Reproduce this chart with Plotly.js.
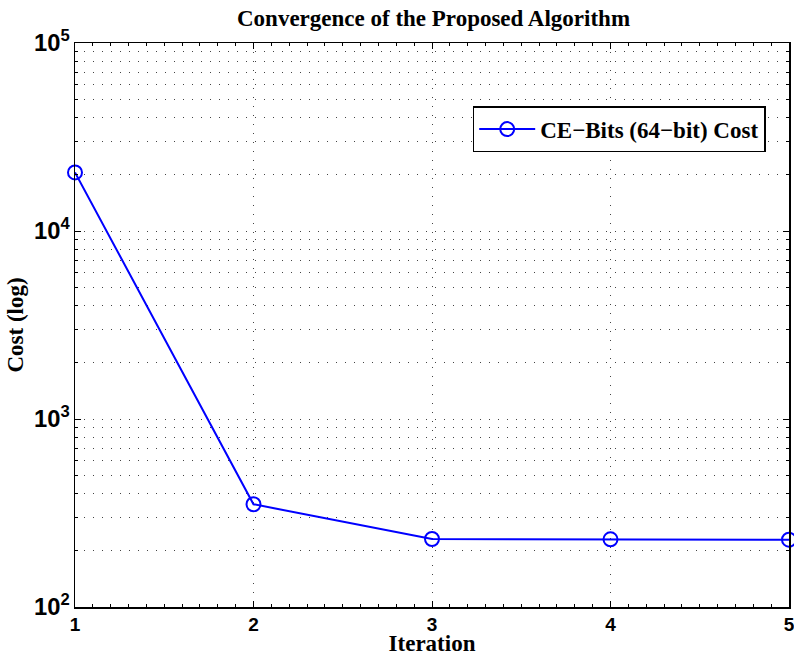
<!DOCTYPE html>
<html>
<head>
<meta charset="utf-8">
<script src="https://cdn.plot.ly/plotly-3.0.1.min.js"></script>
<style>html,body{margin:0;padding:0;background:#fff;}#chart{width:794px;height:656px;}</style>
</head>
<body>
<div id="chart"></div>
<script>
const iterations = [1, 2, 3, 4, 5];
const costValues = [20500, 352, 230, 229, 228];
const seriesName = "CE\u2212Bits (64\u2212bit) Cost";
const xTickValues = [1, 2, 3, 4, 5];

const gridDash = "1px,8px";
const gridColor = "#444";

const trace = {
  x: iterations,
  y: costValues,
  type: "scatter",
  mode: "lines+markers",
  name: seriesName,
  line: {color: "#0000ff", width: 2},
  marker: {symbol: "circle-open", size: 14, color: "#0000ff", line: {width: 2, color: "#0000ff"}},
  cliponaxis: false,
  showlegend: true
};

const serif = "Liberation Serif, Times New Roman, serif";
const sans = "Liberation Sans, Arial, sans-serif";

const layout = {
  width: 794, height: 656,
  margin: {l: 75, r: 5, t: 43, b: 49},
  paper_bgcolor: "#fff",
  plot_bgcolor: "#fff",
  showlegend: true,
  title: {
    text: "Convergence of the Proposed Algorithm",
    font: {family: serif, size: 23, color: "#000", weight: "bold"},
    x: 0.546, xanchor: "center", y: 0.973, yanchor: "middle"
  },
  xaxis: {
    range: [1, 5],
    tickvals: xTickValues,
    ticktext: xTickValues.map(String),
    ticks: "inside", ticklen: 6, tickcolor: "#000",
    ticklabeloverflow: "allow",
    mirror: "ticks", showline: true, linecolor: "#000", linewidth: 1.5,
    showgrid: true, gridcolor: gridColor, griddash: gridDash, gridwidth: 1,
    zeroline: false,
    tickfont: {family: sans, size: 19, color: "#000", weight: "bold"},
    minor: {dtick: 0.1, ticks: "inside", ticklen: 3, tickcolor: "#000", showgrid: false},
    title: {text: "Iteration", font: {family: serif, size: 23, color: "#000", weight: "bold"}, standoff: 2}
  },
  yaxis: {
    type: "log",
    range: [2, 5],
    dtick: 1,
    exponentformat: "power",
    showexponent: "all",
    ticks: "inside", ticklen: 6, tickcolor: "#000",
    ticklabeloverflow: "allow",
    mirror: "ticks", showline: true, linecolor: "#000", linewidth: 1.5,
    showgrid: true, gridcolor: gridColor, griddash: gridDash, gridwidth: 1,
    zeroline: false,
    tickfont: {family: sans, size: 19, color: "#000", weight: "bold"},
    minor: {dtick: "D1", ticks: "inside", ticklen: 3, tickcolor: "#000", showgrid: true, gridcolor: gridColor, griddash: gridDash, gridwidth: 1},
    title: {text: "Cost (log)", font: {family: serif, size: 23, color: "#000", weight: "bold"}, standoff: 4}
  },
  legend: {
    x: 0.557, xanchor: "left", y: 0.888, yanchor: "top",
    bgcolor: "#fff", bordercolor: "#000", borderwidth: 1.5,
    itemwidth: 56,
    font: {family: serif, size: 23, color: "#000", weight: "bold"}
  }
};

Plotly.newPlot("chart", [trace], layout, {displayModeBar: false, staticPlot: true});
</script>
</body>
</html>
